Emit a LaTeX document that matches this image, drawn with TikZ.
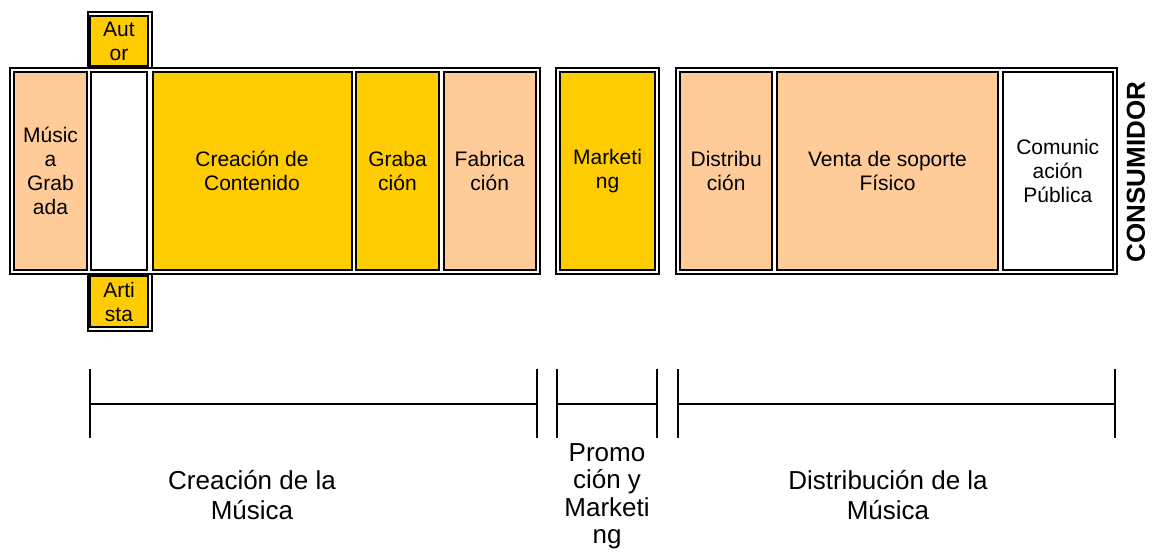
\documentclass[tikz,border=0pt]{standalone}
\usepackage{fontspec}
\setmainfont{Liberation Sans}
\definecolor{gold}{HTML}{FFCC00}
\definecolor{peach}{HTML}{FFCC99}
\begin{document}
\begin{tikzpicture}[x=1pt,y=-1pt,
  stage/.style={draw=black,line width=2pt,inner sep=0pt,align=center,
    font=\fontsize{21}{24}\selectfont,minimum height=198pt},
  frame/.style={draw=black,line width=2pt},
  bracket/.style={draw=black,line width=2pt},
  phase/.style={align=center,font=\fontsize{26}{30}\selectfont},
]
\useasboundingbox (0,0) rectangle (1155,551);

% outer frames of the three phases and of the side boxes
\draw[frame] (10,68) rectangle (540,274);
\draw[frame] (556,68) rectangle (659,274);
\draw[frame] (676,68) rectangle (1117,274);
\draw[frame] (88,12) rectangle (152,68);
\draw[frame] (88,274) rectangle (152,331);

% creation of the music
\node[stage,fill=peach,minimum width=72.5pt] (musica) at (50.5,171) {Músic\\a\\Grab\\ada};
\node[stage,fill=white,minimum width=56.5pt] (blanco) at (119,171) {};
\node[stage,fill=gold,minimum width=199pt] (creacion) at (252,171) {Creación de\\Contenido};
\node[stage,fill=gold,minimum width=83pt] (grabacion) at (397.5,171) {Graba\\ción};
\node[stage,fill=peach,minimum width=92pt] (fabricacion) at (489.75,171) {Fabrica\\ción};
\node[stage,fill=gold,minimum width=57.5pt,minimum height=50pt] (autor) at (119,41) {Aut\\or};
\node[stage,fill=gold,minimum width=57.5pt,minimum height=51pt] (artista) at (119,301.5) {Arti\\sta};

% promotion
\node[stage,fill=gold,minimum width=95pt] (marketing) at (607.5,171) {Marketi\\ng};

% distribution
\node[stage,fill=peach,minimum width=92pt] (distribucion) at (726.25,171) {Distribu\\ción};
\node[stage,fill=peach,minimum width=221.5pt] (venta) at (887.5,171) {Venta de soporte\\Físico};
\node[stage,fill=white,minimum width=110pt] (comunicacion) at (1057.75,171) {Comunic\\ación\\Pública};

\node[rotate=90,font=\fontsize{26}{30}\selectfont\bfseries] (consumidor) at (1136,172) {CONSUMIDOR};

% phase brackets
\foreach \n/\a/\b in {b1/90/537, b2/557/657, b3/678/1115} {
  \coordinate (\n lt) at (\a,369);
  \coordinate (\n lb) at (\a,438);
  \coordinate (\n rt) at (\b,369);
  \coordinate (\n rb) at (\b,438);
  \coordinate (\n lm) at (\a,404);
  \coordinate (\n rm) at (\b,404);
  \draw[bracket] (\n lt) -- (\n lb);
  \draw[bracket] (\n rt) -- (\n rb);
  \draw[bracket] (\n lm) -- (\n rm);
}

\node[phase] (fase1) at (252,495) {Creación de la\\Música};
\node[phase,font=\fontsize{26}{27.5}\selectfont] (fase2) at (607,496) {Promo\\ción y\\Marketi\\ng};
\node[phase] (fase3) at (888,495) {Distribución de la\\Música};
\end{tikzpicture}
\end{document}
